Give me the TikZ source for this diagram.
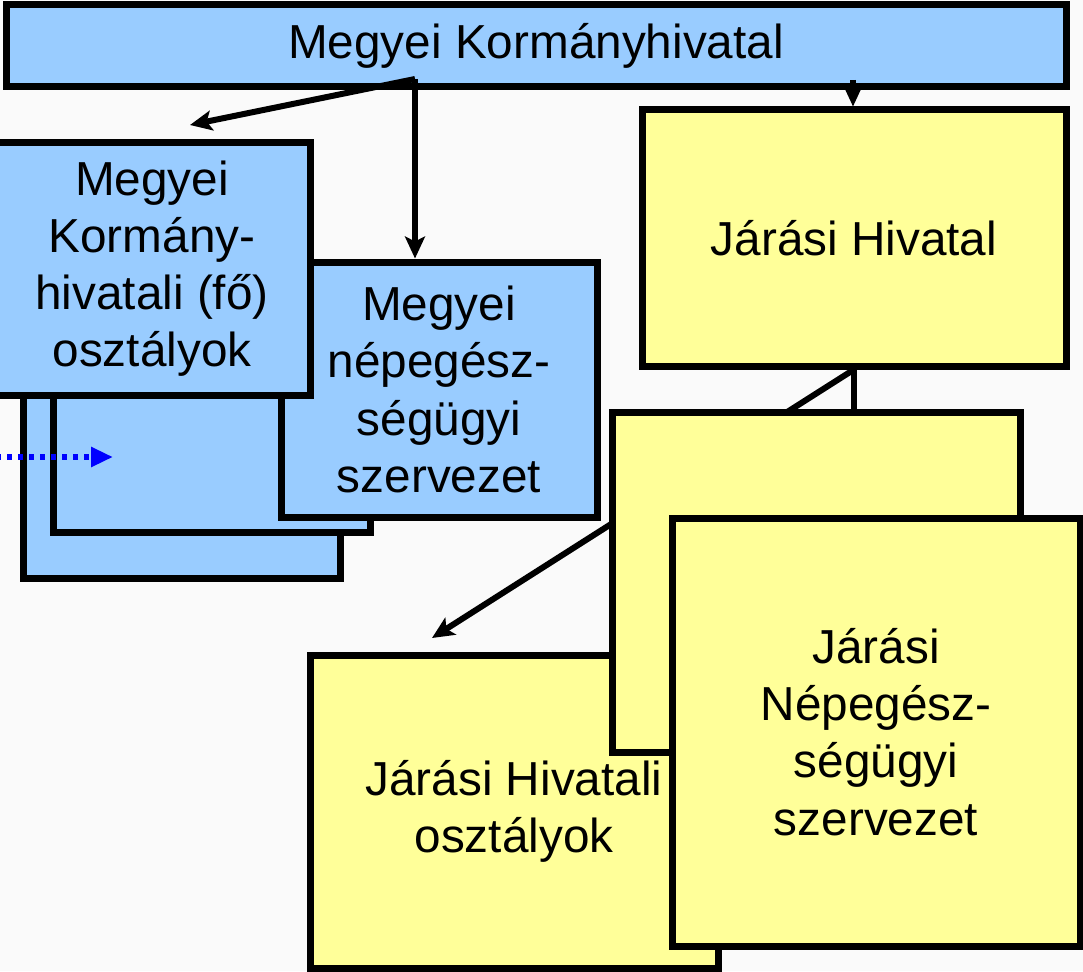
\documentclass[tikz,border=0pt]{standalone}
\usepackage{fontspec}
\setmainfont{Liberation Sans}
\usetikzlibrary{arrows.meta}
\definecolor{boxblue}{RGB}{153,204,255}
\definecolor{boxyellow}{RGB}{255,255,153}
\definecolor{pagebg}{RGB}{250,250,250}
\pgfdeclarelayer{back}
\pgfdeclarelayer{behind}
\pgfsetlayers{back,behind,main}
\begin{document}
\begin{tikzpicture}[x=1pt,y=-1pt,
  box/.style={draw=black, line width=7pt, inner sep=0pt, align=center,
              font=\fontsize{47.7}{57.2}\selectfont},
  bluebox/.style={box, fill=boxblue},
  yellowbox/.style={box, fill=boxyellow},
  conn/.style={draw=black, line width=6pt, -{Stealth[length=22pt,width=20pt,inset=5pt]}},
  plainline/.style={draw=black, line width=6pt},
  dotarrow/.style={draw=blue, line width=6pt, dash pattern=on 5pt off 6pt,
                   -{Triangle[length=22pt,width=19pt]}}
]
\begin{pgfonlayer}{back}
  \fill[pagebg] (0,0) rectangle (1083,971);
\end{pgfonlayer}
\useasboundingbox (0,0) rectangle (1083,971);

% blue stack
\node[bluebox, minimum width=317pt, minimum height=278pt] (c) at (181.5,439) {};
\node[bluebox, minimum width=317pt, minimum height=262pt] (b) at (211.5,401) {};
\node[bluebox, minimum width=316pt, minimum height=255pt] (nep) at (439,389.5)
  {Megyei\\népegész-\\ségügyi\\szervezet};
\node[bluebox, minimum width=316pt, minimum height=253pt] (a) at (152,268.5)
  {Megyei\\Kormány-\\hivatali (fő)\\osztályok};

% top box
\node[bluebox, minimum width=1060pt, minimum height=82pt] (top) at (536,46)
  {Megyei Kormányhivatal};

% yellow boxes
\node[yellowbox, minimum width=424pt, minimum height=256pt] (jh) at (854,238)
  {Járási Hivatal};
\node[yellowbox, minimum width=408pt, minimum height=313pt] (e) at (514,811.5)
  {Járási Hivatali\\osztályok};
\node[yellowbox, minimum width=408pt, minimum height=340pt] (d2) at (816,582) {};
\node[yellowbox, minimum width=408pt, minimum height=428pt] (d3) at (876,732)
  {Járási\\Népegész-\\ségügyi\\szervezet};

% connectors from the top box
\coordinate (s1) at (415,79);
\coordinate (la) at (190,125);
\coordinate (s2) at (853,80);
\draw[conn] (s1) -- (la);
\draw[conn] (s1) -- (s1 |- nep.north);
\draw[conn] (s2) -- (s2 |- jh.north);

% connectors from Járási Hivatal (behind the boxes)
\coordinate (ja) at (432,638);
\begin{pgfonlayer}{behind}
  \draw[plainline] (jh.south) -- (jh.south |- d2.north);
  \draw[conn] (jh.south) -- (ja);
\end{pgfonlayer}

% dotted blue arrow
\coordinate (dstart) at (-4,457);
\coordinate (dend) at (113,457);
\draw[dotarrow] (dstart) -- (dend);
\end{tikzpicture}
\end{document}
